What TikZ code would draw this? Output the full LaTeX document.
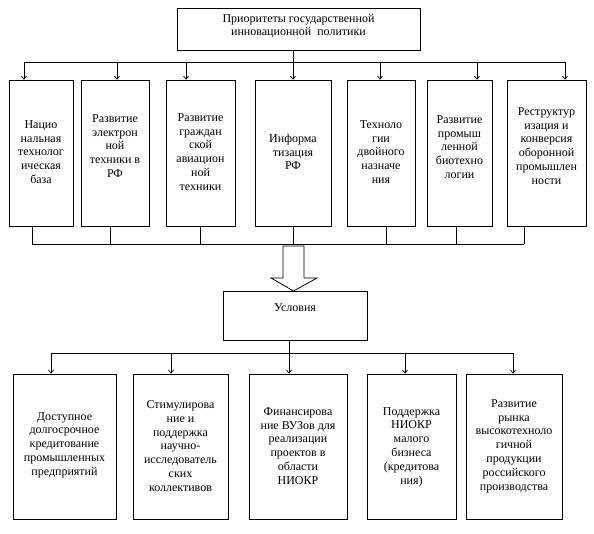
\documentclass[tikz,border=0pt]{standalone}
\usepackage{fontspec}
\setmainfont{Liberation Serif}
\usetikzlibrary{arrows.meta}
\begin{document}
\begin{tikzpicture}[x=1pt,y=-1pt,
  box/.style={draw, line width=0.8pt, inner sep=0pt},
  txt/.style={align=center, font=\fontsize{12}{13.8}\selectfont, inner sep=0pt},
  arr/.style={line width=0.7pt, -{Straight Barb[length=3pt,width=5pt]}},
  ln/.style={line width=0.8pt}]
\useasboundingbox (0,0) rectangle (594,533);
% top box
\node[box, minimum width=243, minimum height=42] (t) at (298.5,29) {};
\node[txt, font=\fontsize{12}{13}\selectfont] (tt) at (298.5,26.5) {Приоритеты государственной\\инновационной\ \ политики};
% row 1 boxes
\node[box, minimum width=64, minimum height=146] (r1) at (41,153) {};
\node[box, minimum width=68, minimum height=146] (r2) at (115,153) {};
\node[box, minimum width=69, minimum height=146] (r3) at (200.5,153) {};
\node[box, minimum width=76, minimum height=146] (r4) at (293,153) {};
\node[box, minimum width=68, minimum height=146] (r5) at (381,153) {};
\node[box, minimum width=65, minimum height=146] (r6) at (459.5,153) {};
\node[box, minimum width=79, minimum height=146] (r7) at (546.5,153) {};
\node[txt] (r1t) at (41,152) {Нацио\\нальная\\технолог\\ическая\\база};
\node[txt] (r2t) at (115,146) {Развитие\\электрон\\ной\\техники в\\РФ};
\node[txt] (r3t) at (200.5,152) {Развитие\\граждан\\ской\\авиацион\\ной\\техники};
\node[txt] (r4t) at (293,152) {Информа\\тизация\\РФ};
\node[txt] (r5t) at (381,152) {Техноло\\гии\\двойного\\назначе\\ния};
\node[txt] (r6t) at (459.5,147) {Развитие\\промыш\\ленной\\биотехно\\логии};
\node[txt] (r7t) at (546.5,146) {Реструктур\\изация и\\конверсия\\оборонной\\промышлен\\ности};
% top bus
\coordinate (b1) at (24,62);
\coordinate (b2) at (117,62);
\coordinate (b3) at (186,62);
\coordinate (b4) at (293,62);
\coordinate (b5) at (380,62);
\coordinate (b6) at (477,62);
\coordinate (b7) at (565,62);
\draw[ln] (t.south -| b4) -- (b4);
\draw[ln] (b1) -- (b7);
\foreach \i in {1,...,7} {\draw[arr] (b\i) -- (b\i |- r\i.north);}
% lower bus
\coordinate (c1) at (32,244);
\coordinate (c2) at (110,244);
\coordinate (c3) at (200,244);
\coordinate (c4) at (293,244);
\coordinate (c5) at (386,244);
\coordinate (c6) at (456,244);
\coordinate (c7) at (524,244);
\foreach \i in {1,...,7} {\draw[ln] (c\i |- r\i.south) -- (c\i);}
\draw[ln] (c1) -- (c7);
% big hollow arrow
\draw[ln, line join=miter] (283,246) -- (304,246) -- (304,278) -- (317,278) -- (293.5,291) -- (271,278) -- (283,278) -- cycle;
% conditions box
\node[box, minimum width=144, minimum height=49] (u) at (295,315.5) {};
\node[txt] (ut) at (295,308) {Условия};
\coordinate (d1) at (51,353);
\coordinate (d2) at (171,353);
\coordinate (d3) at (289,353);
\coordinate (d4) at (405,353);
\coordinate (d5) at (513,353);
\draw[ln] (u.south -| d3) -- (d3);
\draw[ln] (d1) -- (d5);
% bottom boxes
\node[box, minimum width=103, minimum height=145] (s1) at (64.5,446.5) {};
\node[box, minimum width=95, minimum height=145] (s2) at (180.5,446.5) {};
\node[box, minimum width=98, minimum height=145] (s3) at (298,446.5) {};
\node[box, minimum width=89, minimum height=145] (s4) at (411.5,446.5) {};
\node[box, minimum width=96, minimum height=145] (s5) at (514,446.5) {};
\node[txt] (s1t) at (64.5,445) {Доступное\\долгосрочное\\кредитование\\промышленных\\предприятий};
\node[txt] (s2t) at (180.5,446) {Стимулирова\\ние и\\поддержка\\научно-\\исследователь\\ских\\коллективов};
\node[txt] (s3t) at (298,446) {Финансирова\\ние ВУЗов для\\реализации\\проектов в\\области\\НИОКР};
\node[txt] (s4t) at (411.5,447) {Поддержка\\НИОКР\\малого\\бизнеса\\(кредитова\\ния)};
\node[txt] (s5t) at (514,446) {Развитие\\рынка\\высокотехноло\\гичной\\продукции\\российского\\производства};
\foreach \i in {1,...,5} {\draw[arr] (d\i) -- (d\i |- s\i.north);}
\end{tikzpicture}
\end{document}
